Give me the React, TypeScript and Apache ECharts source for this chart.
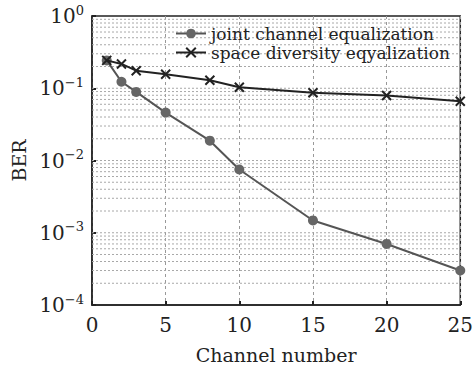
import React, { useEffect, useRef } from "react";
import * as echarts from "echarts";

const channels = [1, 2, 3, 5, 8, 10, 15, 20, 25];
const jointBER = [0.243, 0.123, 0.089, 0.046, 0.0188, 0.0075, 0.00148, 0.0007, 0.0003];
const spaceBER = [0.243, 0.217, 0.175, 0.156, 0.129, 0.103, 0.0865, 0.0795, 0.066];
const seriesNames = ["joint channel equalization", "space diversity eqyalization"];
const decades = [-4, -3, -2, -1];
const minorMultipliers = [1, 2, 3, 4, 5, 6, 7, 8, 9];

const FONT = "DejaVu Serif";
const XPATH = "path://M0,0 L10,10 M10,0 L0,10";

export default function App() {
  const ref = useRef<HTMLDivElement>(null);
  useEffect(() => {
    if (!ref.current) return;
    const chart = echarts.init(ref.current, undefined, { renderer: "svg" });
    const gridValues: number[] = [];
    decades.forEach((d) => minorMultipliers.forEach((m) => gridValues.push(m * Math.pow(10, d))));
    const sup = (v: number) => {
      const e = Math.round(Math.log10(v));
      return `{b|10}{s|${e < 0 ? "\u2212" + -e : e}}`;
    };
    const gridSeries = gridValues.slice(1).map((v) => ({
      type: "line",
      data: [[0, v], [25, v]],
      symbol: "none",
      silent: true,
      lineStyle: { color: "#a8a8a8", type: [2, 2], width: 1 },
      z: 1,
    }));
    chart.setOption({
      animation: false,
      grid: {
        left: 92, right: 14, top: 16, bottom: 62,
        show: true, borderColor: "#222", borderWidth: 1.5, backgroundColor: "transparent",
      },
      legend: {
        left: 170, top: 20, orient: "vertical", itemGap: 2, itemWidth: 30, itemHeight: 12,
        textStyle: { fontFamily: FONT, fontSize: 17, color: "#222" },
        data: seriesNames,
      },
      xAxis: {
        type: "value", min: 0, max: 25, interval: 5,
        name: "Channel number", nameLocation: "middle", nameGap: 40,
        nameTextStyle: { fontFamily: FONT, fontSize: 19, color: "#222" },
        axisLine: { show: true, lineStyle: { color: "#222", width: 1.5 } },
        axisTick: { show: true, inside: true, length: 4, lineStyle: { color: "#222", width: 2 } },
        axisLabel: { fontFamily: FONT, fontSize: 20, color: "#222", margin: 10 },
        splitLine: { show: true, lineStyle: { color: "#999", type: [3, 3], width: 1 } },
      },
      yAxis: {
        type: "log", logBase: 10, min: 1e-4, max: 1,
        name: "BER", nameLocation: "middle", nameGap: 64, nameRotate: 90,
        nameTextStyle: { fontFamily: FONT, fontSize: 19, color: "#222" },
        axisLine: { show: true, lineStyle: { color: "#222", width: 1.5 } },
        axisTick: { show: true, inside: true, length: 4, lineStyle: { color: "#222", width: 2 } },
        axisLabel: {
          margin: 8,
          formatter: sup,
          rich: {
            b: { fontFamily: FONT, fontSize: 20, color: "#222" },
            s: { fontFamily: FONT, fontSize: 13, color: "#222", padding: [0, 0, 12, 0] },
          },
        },
        splitLine: { show: false },
      },
      series: [
        ...gridSeries,
        {
          name: seriesNames[0],
          type: "line",
          data: channels.map((c, i) => [c, jointBER[i]]),
          symbol: "circle", symbolSize: 10,
          lineStyle: { color: "#555", width: 2 },
          itemStyle: { color: "#666" },
          z: 3,
        },
        {
          name: seriesNames[1],
          type: "line",
          data: channels.map((c, i) => [c, spaceBER[i]]),
          symbol: XPATH, symbolSize: 9,
          lineStyle: { color: "#222", width: 2 },
          itemStyle: { color: "#222", borderColor: "#222", borderWidth: 2 },
          z: 4,
        },
      ],
    });
    return () => chart.dispose();
  }, []);
  return <div ref={ref} style={{ width: 476, height: 369, position: "absolute", left: 0, top: 0, background: "#fff" }} />;
}
